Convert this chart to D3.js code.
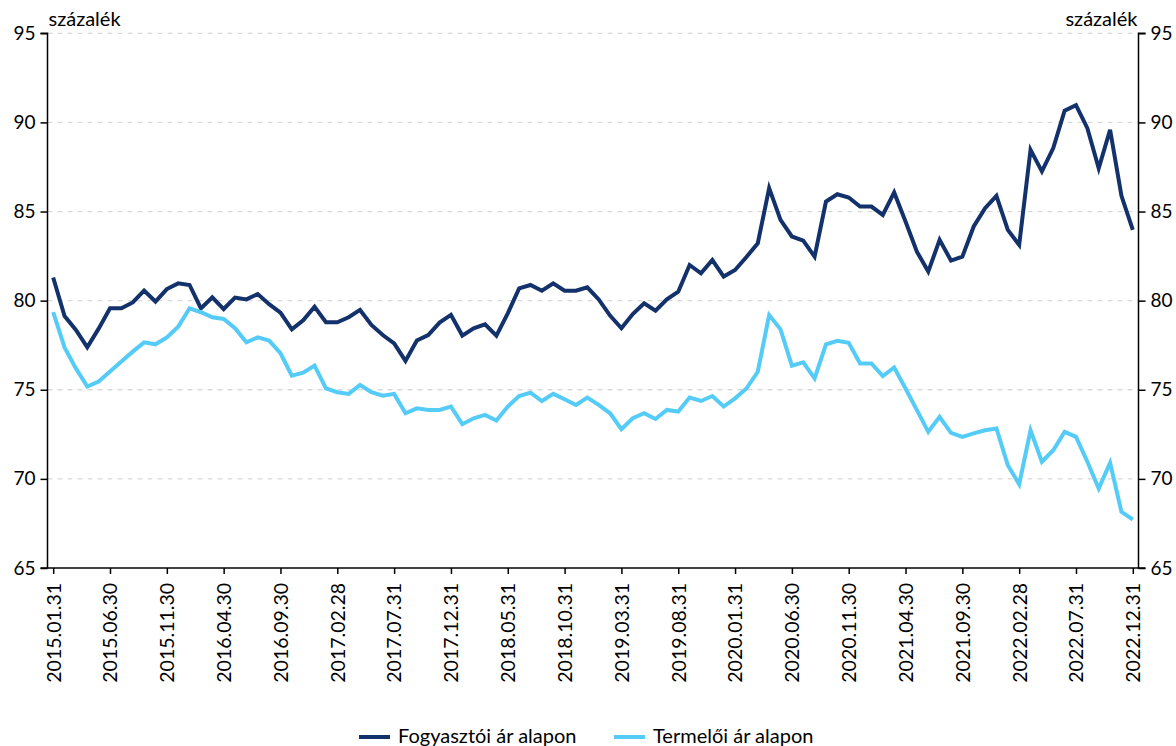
<!DOCTYPE html>
<html><head><meta charset="utf-8">
<script src="https://cdn.jsdelivr.net/npm/d3@7"></script>
<style>body{margin:0;background:#fff}svg{display:block}text{font-family:Lato,"Open Sans",sans-serif;fill:#000}</style>
</head><body><svg id="c" width="1176" height="746"></svg>
<script>
const dates=(()=>{const a=[];for(let y=2015;y<=2022;y++)for(let m=1;m<=12;m++){const d=new Date(y,m,0).getDate();a.push(y+"."+String(m).padStart(2,"0")+"."+d);}return a;})();
const fogyasztoi=[81.3,79.14,78.36,77.38,78.43,79.57,79.57,79.9,80.56,79.95,80.65,80.97,80.88,79.57,80.19,79.53,80.17,80.07,80.37,79.8,79.33,78.39,78.9,79.66,78.79,78.79,79.07,79.48,78.64,78.07,77.6,76.62,77.76,78.07,78.77,79.2,78.04,78.45,78.67,78.04,79.29,80.69,80.88,80.56,80.97,80.56,80.56,80.75,80.07,79.16,78.45,79.25,79.85,79.44,80.07,80.5,82.0,81.53,82.28,81.35,81.72,82.45,83.22,86.31,84.53,83.6,83.37,82.47,85.56,85.97,85.79,85.28,85.28,84.81,86.07,84.44,82.75,81.63,83.41,82.25,82.47,84.16,85.19,85.88,83.97,83.13,88.46,87.25,88.56,90.66,90.97,89.68,87.43,89.59,85.88,83.97];
const termeloi=[79.35,77.38,76.2,75.18,75.46,76.02,76.58,77.14,77.66,77.55,77.94,78.54,79.57,79.35,79.07,78.97,78.45,77.66,77.94,77.76,77.05,75.79,75.96,76.36,75.08,74.86,74.77,75.27,74.86,74.67,74.77,73.68,73.96,73.87,73.87,74.06,73.07,73.4,73.59,73.27,74.06,74.65,74.84,74.37,74.77,74.47,74.15,74.56,74.15,73.68,72.79,73.4,73.68,73.36,73.87,73.78,74.56,74.37,74.65,74.06,74.52,75.07,76.01,79.19,78.39,76.35,76.54,75.64,77.55,77.75,77.64,76.48,76.48,75.77,76.25,75.07,73.86,72.64,73.48,72.58,72.36,72.55,72.73,72.83,70.77,69.7,72.73,70.96,71.61,72.64,72.36,70.96,69.46,70.9,68.15,67.72];
const yTicks=[65,70,75,80,85,90,95];
const seriesNames=["Fogyasztói ár alapon","Termelői ár alapon"];
const colors=["#13316b","#55cbf7"];
const unitLabel="százalék";

const svg=d3.select("#c");
const L=47.5,R=1138.5,T=33.3,B=568;
const x=d3.scalePoint().domain(dates).range([L,R]).padding(0.5);
const y=d3.scaleLinear().domain([65,95]).range([B,T]);

svg.append("g").selectAll("line").data(yTicks.filter(v=>v>65)).join("line")
  .attr("x1",L).attr("x2",R).attr("y1",d=>y(d)).attr("y2",d=>y(d))
  .attr("stroke","#d9d9d9").attr("stroke-width",1.3).attr("stroke-dasharray","5,5");

const la=svg.append("g").attr("transform",`translate(${L},0)`).call(d3.axisLeft(y).tickValues(yTicks).tickSize(7).tickPadding(5));
const ra=svg.append("g").attr("transform",`translate(${R},0)`).call(d3.axisRight(y).tickValues(yTicks).tickSize(7).tickPadding(5));
const xTickVals=dates.filter((d,i)=>i%5===0);
const xa=svg.append("g").attr("transform",`translate(0,${B})`).call(d3.axisBottom(x).tickValues(xTickVals).tickSize(6).tickPadding(6));
[la,ra].forEach(g=>g.selectAll("text").attr("font-size","19px"));
xa.selectAll("text").attr("font-size","19.5px");
[la,ra,xa].forEach(g=>{g.select(".domain").attr("stroke","#000").attr("stroke-width",1.5);g.selectAll(".tick line").attr("stroke","#000").attr("stroke-width",1.5);g.selectAll("text").attr("font-family","Lato,'Open Sans',sans-serif").attr("fill","#000");});
la.select(".domain").attr("d",`M-7,${T}H0V${B}H-7`);
ra.select(".domain").attr("d",`M7,${T}H0V${B}H7`);
xa.select(".domain").attr("d",`M${L},0H${R}`);
xa.selectAll(".tick text").attr("transform","rotate(-90)").attr("text-anchor","end").attr("x",-15).attr("y",0).attr("dy","0.35em");

const line=d3.line().x((d,i)=>x(dates[i])).y(d=>y(d));
[fogyasztoi,termeloi].forEach((s,k)=>{
  svg.append("path").datum(s).attr("d",line).attr("fill","none").attr("stroke",colors[k]).attr("stroke-width",4).attr("stroke-linejoin","miter");
});
svg.append("text").attr("x",L+1).attr("y",26).attr("font-size","20px").text(unitLabel);
svg.append("text").attr("x",R-1).attr("y",26).attr("text-anchor","end").attr("font-size","20px").text(unitLabel);

const lg=svg.append("g");
const lx=[359,614];
seriesNames.forEach((n,k)=>{
  lg.append("line").attr("x1",lx[k]).attr("x2",lx[k]+31).attr("y1",737).attr("y2",737).attr("stroke",colors[k]).attr("stroke-width",4);
  lg.append("text").attr("x",lx[k]+39).attr("y",743).attr("font-size","20px").text(n);
});
</script></body></html>
